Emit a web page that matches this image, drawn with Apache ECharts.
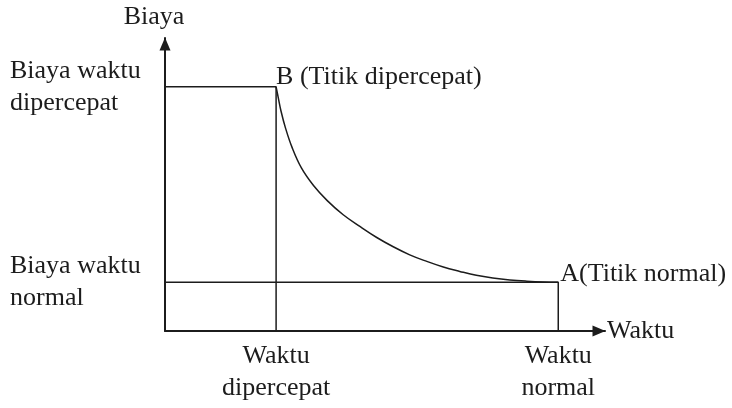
<!DOCTYPE html>
<html>
<head>
<meta charset="utf-8">
<script src="https://cdn.jsdelivr.net/npm/echarts@6/dist/echarts.min.js"></script>
<style>html,body{margin:0;padding:0;background:#fff}#c{width:732px;height:408px}</style>
</head>
<body>
<div id="c"></div>
<script>
// Data (arbitrary units)
const crashTime = 2.02, normalTime = 7.15;
const crashCost = 10, normalCost = 2;
const xMax = 8, yMax = 12;
const curveX = [2.02, 2.06, 2.11, 2.19, 2.31, 2.48, 2.70, 2.95, 3.24, 3.55, 3.85, 4.15, 4.45, 4.76, 5.06, 5.36, 5.66, 5.96, 6.27, 6.58, 6.87, 7.15];
const curveY = [10, 9.55, 9.0, 8.32, 7.52, 6.68, 5.96, 5.34, 4.76, 4.27, 3.83, 3.45, 3.12, 2.85, 2.62, 2.44, 2.28, 2.17, 2.09, 2.04, 2.01, 2.0];
const xLabels = ['Waktu\ndipercepat', 'Waktu\nnormal'];
const yLabels = ['Biaya waktu\nnormal', 'Biaya waktu\ndipercepat'];
const pointNames = ['B (Titik dipercepat)', 'A(Titik normal)'];

const FONT = 'Liberation Serif';
const INK = '#1c1c1c';
const FS = 26;
const chart = echarts.init(document.getElementById('c'));
const curve = curveX.map((x, i) => [x, curveY[i]]);
const lbl = {fontFamily: FONT, fontSize: FS, color: INK};
chart.setOption({
  animation: false,
  grid: {left: 165, top: 38, right: 127, bottom: 77, containLabel: false},
  xAxis: {
    type: 'value', min: 0, max: xMax,
    name: 'Waktu', nameLocation: 'end', nameGap: 2,
    nameTextStyle: Object.assign({align: 'left', verticalAlign: 'middle'}, lbl),
    axisLine: {lineStyle: {color: INK, width: 2}, symbol: ['none', 'triangle'], symbolSize: [11, 13], symbolOffset: [0, -6]},
    axisTick: {show: false},
    splitLine: {show: false},
    axisLabel: Object.assign({
      customValues: [crashTime, normalTime],
      formatter: v => (v === crashTime ? xLabels[0] : xLabels[1]),
      lineHeight: 32, margin: 9, align: 'center', verticalAlign: 'top'
    }, lbl)
  },
  yAxis: {
    type: 'value', min: 0, max: yMax,
    name: 'Biaya', nameLocation: 'end', nameGap: 8,
    nameTextStyle: Object.assign({align: 'center', padding: [0, 22, 0, 0]}, lbl),
    axisLine: {lineStyle: {color: INK, width: 2}, symbol: ['none', 'triangle'], symbolSize: [11, 13], symbolOffset: [0, -6]},
    axisTick: {show: false},
    splitLine: {show: false},
    axisLabel: Object.assign({
      customValues: [normalCost, crashCost],
      formatter: v => (v === crashCost ? yLabels[1] : yLabels[0]),
      lineHeight: 32, margin: 155, align: 'left', verticalAlign: 'middle', padding: [32, 0, 0, 0]
    }, lbl)
  },
  series: [
    {type: 'line', data: [[0, crashCost], [crashTime, crashCost], [crashTime, 0]], symbol: 'none',
     lineStyle: {color: INK, width: 1.5}},
    {type: 'line', data: [[0, normalCost], [normalTime, normalCost], [normalTime, 0]], symbol: 'none',
     lineStyle: {color: INK, width: 1.5}},
    {type: 'line', data: curve, symbol: 'none', smooth: 0.4,
     lineStyle: {color: INK, width: 1.5}},
    {type: 'scatter', symbolSize: 0, itemStyle: {color: INK, opacity: 1},
     data: [
       {value: [crashTime, crashCost], label: Object.assign({show: true, opacity: 1, formatter: pointNames[0], position: 'right', offset: [-5, -10]}, lbl)},
       {value: [normalTime, normalCost], label: Object.assign({show: true, opacity: 1, formatter: pointNames[1], position: 'right', offset: [-3, -8]}, lbl)}
     ]}
  ]
});
</script>
</body>
</html>
